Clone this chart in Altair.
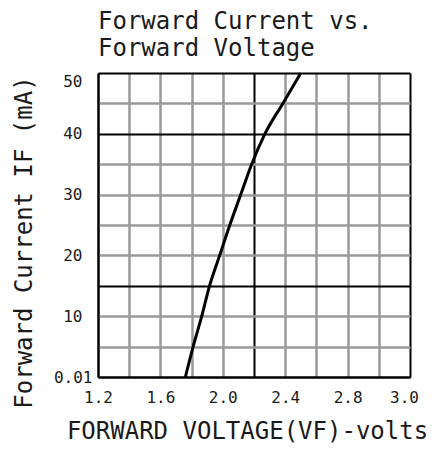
import altair as alt
import pandas as pd

# Curve
current_ma = [0, 5, 10, 15, 20, 25, 30, 35, 40, 45, 50]
voltage_v = [1.76, 1.81, 1.865, 1.915, 1.98, 2.045, 2.115, 2.185, 2.27, 2.385, 2.50]

# Axes
x_grid = [1.2, 1.4, 1.6, 1.8, 2.0, 2.2, 2.4, 2.6, 2.8, 3.0, 3.2]
x_label_at = [1.2, 1.6, 2.0, 2.4, 2.8, 3.2]
x_label_text = ["1.2", "1.6", "2.0", "2.4", "2.8", "3.0"]
x_dark = [1.2, 2.2, 3.2]

y_grid = [0, 5, 10, 15, 20, 25, 30, 35, 40, 45, 50]
y_label_at = [0, 10, 20, 30, 40, 50]
y_label_text = ["0.01", "10", "20", "30", "40", "50"]
y_dark = [0, 15, 40, 50]

title_lines = ["Forward Current vs.", "Forward Voltage"]
x_title = "FORWARD VOLTAGE(VF)-volts"
y_title = "Forward Current IF (mA)"

df = pd.DataFrame({"V": voltage_v, "I": current_ma})

FONT = "DejaVu Sans Mono"
TXT = "#1a1a1a"


def label_expr(at, text):
    expr = "''"
    for v, t in reversed(list(zip(at, text))):
        expr = f"abs(datum.value - {v}) < 0.001 ? '{t}' : ({expr})"
    return expr


def dark_test(vals):
    return " || ".join(f"abs(datum.value - {v}) < 0.001" for v in vals)


x_axis = alt.Axis(
    values=x_grid,
    labelExpr=label_expr(x_label_at, x_label_text),
    labelOverlap=False,
    labelBound=False,
    labelFlush=False,
    labelFont=FONT,
    labelFontSize=16,
    labelColor=TXT,
    labelPadding=12,
    labelOffset={"condition": {"test": "datum.value > 3.1", "value": -6}, "value": 0},
    ticks=False,
    tickSize=0,
    domain=True,
    domainColor="black",
    domainWidth=2,
    grid=True,
    gridColor={"condition": {"test": dark_test(x_dark), "value": "black"}, "value": "#9a9a9a"},
    gridWidth={"condition": {"test": dark_test(x_dark), "value": 2}, "value": 2.5},
    gridOpacity=1,
    title=x_title,
    titleFont=FONT,
    titleFontSize=24,
    titleFontWeight="normal",
    titleColor=TXT,
    titleX=149,
    titleY=54,
    titleAlign="center",
    titleBaseline="middle",
)

y_axis = alt.Axis(
    values=y_grid,
    labelExpr=label_expr(y_label_at, y_label_text),
    labelOverlap=False,
    labelBound=False,
    labelFlush=False,
    labelFont=FONT,
    labelFontSize=16,
    labelColor=TXT,
    labelPadding={"condition": {"test": "datum.value < 1", "value": 6}, "value": 16},
    labelBaseline={"condition": {"test": "datum.value > 49", "value": "top"}, "value": "middle"},
    ticks=False,
    tickSize=0,
    domain=True,
    domainColor="black",
    domainWidth=2,
    grid=True,
    gridColor={"condition": {"test": dark_test(y_dark), "value": "black"}, "value": "#9a9a9a"},
    gridWidth={"condition": {"test": dark_test(y_dark), "value": 2}, "value": 2.5},
    gridOpacity=1,
    title=y_title,
    titleFont=FONT,
    titleFontSize=24,
    titleFontWeight="normal",
    titleColor=TXT,
    titleAngle=270,
    titleX=-74,
    titleY=169,
    titleAlign="center",
    titleBaseline="middle",
)

chart = (
    alt.Chart(df)
    .mark_line(color="black", strokeWidth=3, interpolate="monotone")
    .encode(
        x=alt.X("V:Q", scale=alt.Scale(domain=[1.2, 3.2], nice=False, zero=False), axis=x_axis),
        y=alt.Y("I:Q", scale=alt.Scale(domain=[0, 50], nice=False), axis=y_axis),
        order=alt.Order("I:Q"),
    )
    .properties(
        width=312,
        height=304,
        autosize=alt.AutoSizeParams(type="none"),
        padding={"left": 90, "top": 65, "right": 20, "bottom": 67},
        title=alt.TitleParams(
            text=title_lines,
            anchor="start",
            frame="group",
            font=FONT,
            fontSize=24,
            fontWeight="normal",
            color=TXT,
            lineHeight=27,
            baseline="top",
            offset=6,
        ),
    )
    .configure_view(stroke="black", strokeWidth=2)
    .configure(background="white")
)

chart.save("out.html", embed_options={"renderer": "svg", "actions": False})
